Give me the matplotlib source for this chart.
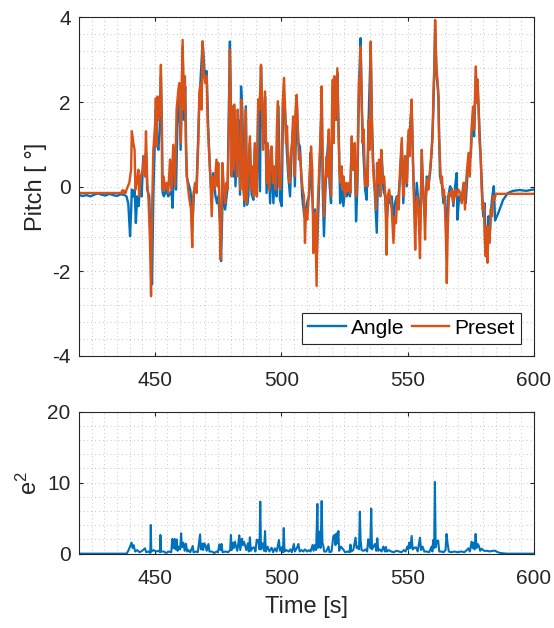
import matplotlib
matplotlib.use("Agg")
import matplotlib.pyplot as plt
import numpy as np

plt.rcParams['font.family'] = ['Liberation Sans', 'DejaVu Sans']
plt.rcParams['mathtext.fontset'] = 'custom'
plt.rcParams['mathtext.rm'] = 'Liberation Sans'
plt.rcParams['axes.unicode_minus'] = False

# preset (orange) pitch
preset_t = [420.0, 436.5, 437.0, 437.3, 437.6, 438.0, 438.4, 438.8, 439.9, 440.6,
            440.9, 441.5, 442.0, 442.3, 442.8, 443.5, 443.8, 444.4, 445.2, 445.7,
            446.1, 446.5, 447.0, 447.5, 448.1, 448.5, 448.9, 449.4, 449.8, 450.2,
            450.4, 450.7, 451.1, 451.5, 452.0, 452.4, 452.7, 452.9, 453.5, 454.0,
            454.7, 455.3, 456.0, 456.5, 457.3, 458.0, 458.6, 459.3, 459.7, 460.3,
            461.0, 461.5, 461.9, 462.3, 462.8, 463.5, 464.3, 464.8, 465.2, 465.9,
            466.5, 467.2, 467.6, 468.1, 468.5, 468.9, 469.4, 469.9, 470.5, 470.9,
            471.4, 471.9, 472.5, 473.0, 473.5, 474.4, 474.8, 475.1, 475.6, 476.0,
            476.4, 476.7, 477.2, 477.8, 478.3, 478.8, 479.3, 479.7, 480.1, 480.4,
            480.8, 481.2, 481.4, 481.8, 482.1, 482.5, 482.8, 483.2, 483.6, 483.8,
            484.2, 484.6, 485.0, 485.4, 486.0, 486.3, 486.7, 487.3, 487.6, 488.0,
            488.4, 489.0, 489.4, 489.6, 490.0, 490.4, 490.9, 491.3, 491.7, 492.0,
            492.4, 492.8, 493.2, 493.6, 494.0, 494.2, 494.6, 495.2, 495.7, 496.2,
            496.7, 497.3, 497.8, 498.3, 498.7, 499.1, 499.6, 500.2, 500.6, 501.1,
            501.5, 501.9, 502.3, 502.8, 503.3, 503.7, 504.3, 504.7, 505.2, 505.6,
            506.1, 506.5, 507.0, 507.4, 508.0, 508.5, 509.0, 509.4, 509.8, 510.3,
            510.9, 511.4, 511.8, 512.3, 512.7, 513.4, 513.8, 514.0, 514.4, 514.8,
            515.4, 515.8, 516.0, 516.4, 516.9, 517.5, 518.0, 518.4, 518.8, 519.3,
            519.7, 520.1, 520.4, 520.8, 521.0, 521.4, 521.8, 522.2, 522.6, 523.0,
            523.5, 523.9, 524.3, 524.7, 525.2, 525.8, 526.3, 526.8, 527.4, 527.9,
            528.3, 528.7, 529.1, 529.6, 530.1, 530.5, 530.8, 531.2, 531.4, 531.8,
            532.2, 532.6, 533.2, 533.7, 534.2, 534.6, 535.0, 535.4, 535.8, 536.2,
            536.7, 537.1, 537.5, 537.9, 538.3, 538.7, 539.2, 539.6, 540.1, 540.7,
            541.2, 541.7, 542.1, 542.7, 543.2, 543.7, 544.4, 544.9, 545.4, 545.9,
            546.5, 547.0, 547.7, 548.1, 548.5, 549.0, 549.7, 550.1, 550.5, 550.8,
            551.2, 551.6, 552.0, 552.4, 553.0, 553.4, 553.7, 554.3, 554.9, 555.3,
            555.6, 556.0, 556.4, 556.9, 557.3, 557.7, 558.2, 558.6, 559.0, 559.5,
            559.9, 560.2, 560.6, 560.9, 561.3, 561.7, 562.1, 562.4, 562.8, 563.2,
            563.6, 564.0, 564.4, 564.8, 565.2, 565.5, 565.9, 566.4, 566.9, 567.5,
            568.1, 568.8, 569.4, 570.1, 570.8, 571.4, 572.1, 572.7, 573.1, 573.5,
            574.1, 574.6, 575.1, 575.5, 575.9, 576.3, 576.7, 577.0, 577.3, 577.7,
            578.1, 578.5, 578.9, 579.3, 579.7, 580.1, 580.5, 580.9, 581.3, 581.6,
            582.0, 582.4, 582.9, 583.4, 583.8, 584.3, 584.9, 600.0]
preset_v = [-0.15, -0.15, -0.12, -0.08, -0.17, -0.10, -0.15, -0.07, 0.09, 0.40,
            1.31, 1.03, 0.87, -0.07, 0.09, 0.40, -0.23, 0.24, 0.40, 0.72,
            0.24, 1.31, 0.09, -0.31, -1.33, -2.59, -0.54, 0.87, 1.19, 1.58,
            2.09, 0.95, 2.13, 1.58, 1.82, 2.88, 1.58, -0.07, 0.24, -0.07,
            0.09, -0.15, 0.64, -0.07, 0.99, 0.01, 1.82, 2.29, 2.45, 1.03,
            3.47, 1.82, 2.61, 0.87, 0.17, -0.23, -0.54, -1.43, -0.23, 0.09,
            -0.15, 1.03, 2.21, 2.45, 1.82, 3.43, 2.69, 2.45, 2.61, 1.50,
            0.87, 0.32, -0.70, 0.24, -0.07, 0.64, 0.01, 0.56, -0.54, -1.72,
            -0.70, 0.56, 0.09, -0.39, 0.09, -0.07, 1.43, 3.24, 1.82, 0.24,
            1.90, 0.40, 1.94, 0.64, 1.58, 0.24, 1.82, 0.64, 0.80, -0.07,
            2.06, 1.19, -0.07, -0.31, 1.82, -0.39, 0.09, 0.80, 1.19, -0.07,
            0.48, -0.23, 0.80, 1.03, -0.07, -0.23, 2.06, 1.82, 2.29, 2.88,
            1.82, 0.87, 1.82, 2.25, 1.03, 0.09, 1.03, -0.07, 0.48, 0.95,
            0.09, 0.48, -0.07, 1.43, 2.02, 0.09, -0.07, 0.64, 1.98, 2.57,
            1.90, 1.03, 1.43, 0.40, 0.09, 0.72, 1.03, 1.66, 0.24, 1.74,
            2.17, 1.43, 0.64, 0.80, 0.24, -0.07, -0.23, -1.33, -0.54, -0.78,
            -0.23, 0.40, 0.95, 0.40, -1.57, -0.62, -1.80, -2.35, -0.54, 0.09,
            1.03, 1.58, 2.37, 0.64, -0.70, 0.17, 0.72, 0.24, 1.35, 0.24,
            -0.23, 1.82, 2.53, 1.03, 2.61, 1.58, 2.21, 2.80, 1.43, 0.40,
            0.09, 0.48, -0.07, 0.24, -0.23, 0.09, -0.11, 0.09, -0.15, 1.19,
            0.40, 0.87, 1.03, -0.23, 0.09, 1.82, 2.57, 2.21, 3.31, 2.13,
            1.03, 1.35, 0.01, 0.40, 0.01, 1.58, 0.87, 3.43, 1.82, 0.64,
            0.09, -0.07, -0.54, 0.56, 0.09, 0.64, -0.23, 0.87, 0.09, 0.24,
            -0.23, -1.61, -0.23, -0.07, -0.31, -0.54, -1.33, -0.70, -0.86, -0.23,
            -0.54, 0.40, 1.15, 0.09, -0.23, 0.72, 0.09, 1.03, 1.35, 0.72,
            1.58, 2.06, 0.80, -0.07, -1.49, -0.54, -0.23, -0.54, -1.69, -0.23,
            0.87, 0.09, -0.23, -1.25, -0.23, 0.17, -0.07, 0.24, 0.48, 0.87,
            1.19, 2.21, 2.84, 3.94, 2.92, 2.61, 2.29, 1.19, 0.64, 0.09,
            0.24, -0.23, -0.07, -0.54, -1.33, -2.28, -0.94, -0.15, -0.23, -0.07,
            -0.39, -0.07, -0.23, -0.07, -0.15, -0.39, 0.09, -0.54, 0.09, 0.40,
            0.80, 0.24, 1.03, 1.58, 1.89, 1.35, 2.21, 2.84, 1.98, 2.53,
            1.82, 1.03, 0.72, -0.07, -0.54, -0.39, -1.25, -1.65, -0.94, -1.80,
            -0.94, -1.33, -0.54, -0.70, -0.23, -0.31, -0.17, -0.17]

# measured angle (blue)
angle_t = [420.0, 421.5, 423.0, 424.5, 426.0, 427.5, 429.0, 430.5, 432.0, 433.5,
           435.0, 436.5, 438.0, 438.8, 439.5, 440.2, 440.6, 440.9, 441.5, 442.0,
           442.5, 443.0, 443.6, 444.2, 444.8, 445.4, 446.1, 446.5, 447.0, 447.8,
           448.3, 448.9, 449.4, 449.9, 450.4, 450.9, 451.4, 452.0, 452.4, 452.8,
           453.1, 453.6, 454.4, 455.3, 456.6, 457.0, 457.6, 458.4, 458.9, 459.7,
           460.2, 461.0, 461.5, 462.0, 462.6, 463.2, 464.0, 464.3, 464.8, 465.5,
           466.5, 467.6, 468.9, 469.8, 470.5, 471.1, 471.8, 472.5, 473.1, 474.0,
           474.6, 475.1, 475.8, 476.2, 476.7, 477.1, 477.8, 478.4, 478.8, 479.7,
           480.1, 481.0, 481.4, 481.9, 483.0, 483.7, 484.1, 484.6, 485.4, 486.0,
           486.5, 487.0, 487.6, 488.3, 489.0, 489.6, 490.3, 490.9, 491.6, 492.0,
           492.5, 493.2, 493.6, 494.2, 494.9, 495.6, 496.2, 496.9, 497.5, 498.2,
           498.9, 499.5, 500.2, 500.8, 501.5, 502.2, 502.8, 503.5, 504.1, 504.9,
           505.4, 506.1, 506.8, 507.4, 508.3, 509.1, 509.7, 510.5, 511.0, 511.6,
           512.0, 512.7, 513.4, 514.0, 514.7, 515.4, 516.0, 516.4, 516.9, 517.5,
           518.0, 518.7, 519.1, 519.7, 520.4, 521.0, 521.7, 522.2, 522.9, 523.3,
           523.9, 524.6, 525.2, 525.9, 526.6, 527.2, 527.9, 528.5, 529.1, 529.6,
           530.1, 530.8, 531.4, 531.9, 532.5, 533.2, 533.8, 534.5, 535.4, 535.9,
           536.4, 537.1, 537.8, 538.4, 539.1, 539.8, 540.4, 541.1, 541.7, 542.4,
           543.0, 543.7, 544.4, 545.0, 545.7, 546.3, 547.0, 547.7, 548.3, 549.0,
           549.7, 550.3, 550.9, 551.6, 552.3, 552.7, 553.2, 553.6, 554.3, 554.9,
           555.6, 556.3, 556.9, 557.6, 558.2, 558.9, 559.5, 560.2, 560.9, 561.5,
           562.2, 562.8, 563.5, 564.2, 564.8, 565.5, 566.1, 566.8, 567.5, 568.1,
           568.8, 569.4, 569.7, 570.4, 571.0, 571.7, 572.3, 573.0, 573.7, 574.3,
           575.0, 575.6, 576.3, 577.0, 577.7, 578.2, 578.8, 579.3, 579.9, 580.4,
           580.9, 581.4, 582.0, 582.5, 583.0, 583.5, 584.1, 584.6, 585.9, 587.8,
           589.7, 591.7, 594.3, 596.9, 599.5, 600.0]
angle_v = [-0.20, -0.22, -0.20, -0.23, -0.19, -0.16, -0.19, -0.21, -0.17, -0.20,
           -0.22, -0.18, -0.20, -0.23, -0.40, -1.17, -0.60, -0.07, -0.23, -0.07,
           -0.86, -0.23, -0.46, 0.09, -0.23, 0.72, 0.40, 0.80, -0.07, -0.23,
           -1.33, -2.31, -0.23, 0.87, 1.82, 1.03, 0.87, 1.43, 2.61, 1.43,
           -0.15, -0.23, -0.07, -0.23, -0.11, -0.50, 0.48, -0.07, 1.43, 2.29,
           0.87, 3.31, 1.58, 2.37, 0.24, 0.09, -0.07, -0.23, -1.02, -0.11,
           0.01, 1.98, 3.43, 2.61, 2.73, 1.43, 0.40, -0.23, 0.32, -0.23,
           -0.39, -0.23, -0.86, -1.76, -0.54, -0.07, -0.54, -0.23, 0.01, 3.43,
           1.82, 0.24, 1.82, 0.01, 1.58, -0.19, 2.37, 1.82, -0.46, 1.90,
           -0.43, -0.23, 1.03, -0.19, -0.31, 0.87, -0.23, 1.90, -0.11, 2.84,
           1.66, 1.03, 2.13, -0.15, 0.87, -0.39, 0.80, -0.39, 0.40, -0.23,
           1.90, -0.31, -0.46, 2.21, 1.82, 0.87, 0.24, -0.23, 0.87, 1.58,
           0.01, 2.13, 1.03, 0.95, -0.23, -0.70, -0.54, -0.31, -0.23, 0.80,
           0.09, -0.70, -0.54, -1.80, -0.46, 0.80, 2.29, 0.01, -1.17, -0.07,
           0.56, 1.19, 0.09, -0.39, 2.37, 2.45, 1.58, 2.69, 0.87, -0.39,
           0.09, -0.46, -0.07, -0.23, -0.07, -0.23, 1.03, 0.40, 0.80, -0.82,
           -0.07, 2.45, 3.51, 1.82, 0.80, -0.07, -0.31, 1.43, 3.31, 1.50,
           0.56, -0.23, -1.09, 0.56, 0.01, 0.72, -0.07, -0.23, -0.86, -0.23,
           -0.39, -0.23, -0.86, -0.39, -0.23, -0.31, 0.24, 1.03, -0.39, 0.72,
           0.01, 1.19, 1.35, 1.90, 0.24, -0.39, -0.70, 0.09, -0.39, -1.02,
           0.72, -0.31, -0.70, 0.24, 0.01, 0.32, 0.80, 1.82, 3.70, 2.61,
           2.13, 0.24, 0.09, -0.39, -0.23, -1.33, -0.23, 0.01, -0.07, -0.46,
           0.01, 0.32, -0.78, -0.23, -0.31, -0.15, 0.09, -0.39, 0.32, 0.64,
           0.72, 1.58, 1.19, 2.61, 2.37, 1.66, 0.87, 0.09, -0.70, -0.39,
           -1.33, -1.49, -0.70, -1.17, -0.54, -0.23, 0.01, -0.80, -0.62, -0.31,
           -0.15, -0.10, -0.08, -0.10, -0.07, -0.07]

# squared error
e2_t = [420.0, 438.8, 439.5, 440.2, 440.8, 441.2, 441.6, 442.2, 443.0, 444.0,
        445.0, 446.1, 446.6, 447.5, 448.2, 448.4, 448.6, 449.5, 450.5, 451.5,
        452.1, 452.2, 452.4, 453.5, 454.5, 455.5, 456.5, 456.9, 457.3, 457.8,
        458.2, 458.6, 459.0, 459.3, 460.0, 460.4, 460.7, 461.3, 461.8, 462.3,
        462.8, 463.3, 464.0, 465.0, 465.3, 466.2, 467.0, 467.9, 468.2, 468.8,
        469.1, 469.5, 470.0, 470.5, 471.2, 471.6, 472.5, 473.5, 474.5, 475.0,
        475.5, 476.0, 476.4, 476.8, 478.0, 479.0, 479.8, 480.1, 480.4, 481.0,
        481.3, 481.7, 482.2, 482.6, 483.0, 483.4, 483.8, 484.4, 484.8, 485.2,
        485.7, 486.2, 486.8, 487.2, 487.6, 488.0, 488.6, 489.2, 489.8, 490.3,
        490.9, 491.4, 491.7, 492.0, 492.6, 493.2, 493.6, 493.9, 494.6, 495.3,
        496.2, 496.8, 497.5, 498.2, 499.1, 499.5, 500.2, 500.7, 501.0, 501.3,
        502.0, 503.0, 503.6, 504.2, 505.0, 505.4, 506.2, 506.8, 507.3, 508.0,
        508.7, 509.4, 510.2, 511.0, 511.6, 512.4, 512.8, 513.3, 513.8, 514.3,
        514.6, 514.8, 515.3, 515.6, 516.0, 516.3, 516.6, 517.0, 517.8, 518.7,
        519.1, 519.9, 520.6, 521.1, 521.5, 521.9, 522.3, 522.6, 522.9, 523.6,
        524.5, 525.3, 526.3, 527.0, 527.4, 527.7, 528.5, 529.4, 529.8, 530.3,
        530.8, 531.1, 531.4, 531.8, 532.6, 533.4, 534.0, 534.4, 534.8, 535.2,
        535.6, 535.9, 536.5, 537.1, 537.6, 538.0, 538.4, 539.0, 539.7, 540.4,
        541.0, 541.4, 541.8, 542.6, 543.5, 544.5, 545.6, 546.6, 547.6, 548.5,
        549.2, 549.9, 550.3, 550.6, 551.1, 551.6, 552.0, 552.6, 553.3, 554.0,
        554.9, 555.3, 555.9, 556.6, 557.5, 558.5, 559.5, 559.8, 560.1, 560.5,
        560.8, 561.1, 561.6, 562.1, 562.5, 563.3, 564.2, 565.0, 565.4, 565.8,
        566.3, 567.2, 568.5, 569.7, 571.3, 572.5, 573.4, 574.0, 574.6, 575.3,
        575.7, 576.0, 576.5, 576.9, 577.3, 577.7, 578.2, 578.7, 579.3, 580.2,
        581.5, 582.5, 583.2, 584.5, 585.2, 586.5, 589.2, 600.0]
e2_v = [0.0, 0.0, 0.4, 1.0, 1.55, 0.8, 1.2, 0.3, 0.5, 0.2,
        0.4, 0.75, 0.2, 0.3, 0.1, 4.04, 0.3, 0.5, 0.3, 0.4,
        0.2, 2.63, 0.3, 0.3, 0.1, 0.3, 0.2, 2.07, 0.8, 2.07,
        0.6, 2.0, 0.4, 1.0, 0.6, 2.86, 0.9, 1.55, 0.4, 1.4,
        0.3, 0.5, 0.2, 1.08, 0.2, 0.3, 0.2, 2.72, 0.6, 1.4,
        0.5, 1.46, 1.2, 0.4, 1.36, 0.3, 0.3, 0.1, 0.3, 0.2,
        1.31, 0.5, 1.36, 0.2, 0.3, 0.2, 0.5, 2.63, 0.5, 1.55,
        0.8, 1.69, 1.0, 0.4, 1.3, 2.58, 0.5, 2.11, 1.2, 1.69,
        1.17, 0.5, 1.46, 0.3, 2.3, 0.4, 0.8, 0.89, 0.3, 1.92,
        1.92, 0.6, 7.32, 0.6, 1.46, 0.4, 3.19, 0.3, 1.0, 0.3,
        0.84, 0.2, 0.75, 0.3, 1.92, 0.4, 0.9, 0.2, 3.61, 0.3,
        0.5, 0.3, 0.6, 0.2, 1.36, 0.3, 0.8, 1.36, 0.3, 0.5,
        0.3, 0.6, 0.3, 0.5, 0.3, 1.22, 0.4, 1.22, 0.5, 7.0,
        0.8, 1.0, 3.1, 0.8, 7.42, 1.5, 1.22, 0.3, 0.3, 1.0,
        0.2, 0.3, 2.4, 2.63, 1.2, 2.86, 1.5, 3.19, 0.4, 1.0,
        0.6, 0.2, 0.3, 0.2, 1.27, 0.3, 0.5, 2.25, 0.8, 1.0,
        0.6, 5.92, 1.9, 0.5, 0.4, 0.6, 0.3, 2.02, 1.46, 0.8,
        6.34, 0.6, 1.0, 1.36, 0.4, 2.16, 0.4, 0.6, 0.3, 1.0,
        0.3, 0.94, 0.3, 0.5, 0.3, 0.2, 0.4, 0.3, 0.2, 0.5,
        0.3, 1.0, 0.6, 1.55, 0.8, 2.49, 0.6, 0.8, 0.9, 0.3,
        2.25, 0.5, 1.0, 0.3, 0.3, 0.2, 1.0, 0.3, 1.92, 0.8,
        10.1, 0.9, 1.8, 1.83, 0.3, 0.3, 0.2, 0.5, 2.77, 1.46,
        0.3, 0.2, 0.3, 0.2, 0.3, 0.2, 0.5, 0.75, 0.3, 1.69,
        0.8, 1.55, 0.6, 2.77, 0.8, 1.36, 1.08, 0.4, 0.7, 0.4,
        0.4, 0.3, 0.38, 0.42, 0.28, 0.1, 0.0, 0.0]

blue = '#0072BD'
orange = '#D95319'
dark = '#262626'

fig = plt.figure(figsize=(5.54, 6.28), dpi=100)
ax1 = fig.add_axes([0.1426, 0.4333, 0.8213, 0.539])
ax2 = fig.add_axes([0.1426, 0.1184, 0.8213, 0.2261])


def style(ax):
    ax.minorticks_on()
    ax.grid(True, which='both', linestyle=(0, (1, 3)), color='#c6c6c6', linewidth=0.7)
    ax.set_axisbelow(True)
    ax.tick_params(which='major', direction='in', length=3, width=0.8,
                   top=True, right=True, labelsize=15, colors=dark, pad=6)
    ax.tick_params(axis='x', which='major', pad=11)
    ax.tick_params(which='minor', length=0)
    for s in ax.spines.values():
        s.set_color(dark)
        s.set_linewidth(0.8)
    ax.set_xlim(420, 600)
    ax.set_xticks([450, 500, 550, 600])


ax1.plot(angle_t, angle_v, color=blue, lw=1.7, label='Angle')
ax1.plot(preset_t, preset_v, color=orange, lw=1.7, label='Preset')
style(ax1)
ax1.set_ylim(-4, 4)
ax1.set_yticks([-4, -2, 0, 2, 4])
ax1.set_yticks(np.arange(-4, 4.01, 0.4), minor=True)
ax1.set_xticks(np.arange(420, 601, 5), minor=True)
ax1.set_ylabel('Pitch [ °]', fontsize=17, color=dark, labelpad=4)
leg = ax1.legend(loc='lower right', bbox_to_anchor=(0.972, 0.035), ncol=2,
                 fontsize=15, frameon=True, fancybox=False, framealpha=1,
                 edgecolor=dark, borderaxespad=0, handlelength=1.8,
                 columnspacing=0.35, handletextpad=0.25, borderpad=0.3)
leg.get_frame().set_linewidth(0.8)
for txt in leg.get_texts():
    txt.set_color('black')

ax2.plot(e2_t, e2_v, color=blue, lw=1.5)
style(ax2)
ax2.set_ylim(0, 20)
ax2.set_yticks([0, 10, 20])
ax2.set_yticks(np.arange(0, 20.1, 2), minor=True)
ax2.set_xticks(np.arange(420, 601, 5), minor=True)
ax2.set_ylabel(r'$\mathregular{e^2}$', fontsize=17, color=dark, labelpad=4)
ax2.set_xlabel('Time [s]', fontsize=17, color=dark, labelpad=6)

fig.savefig('out.png', dpi=100)
